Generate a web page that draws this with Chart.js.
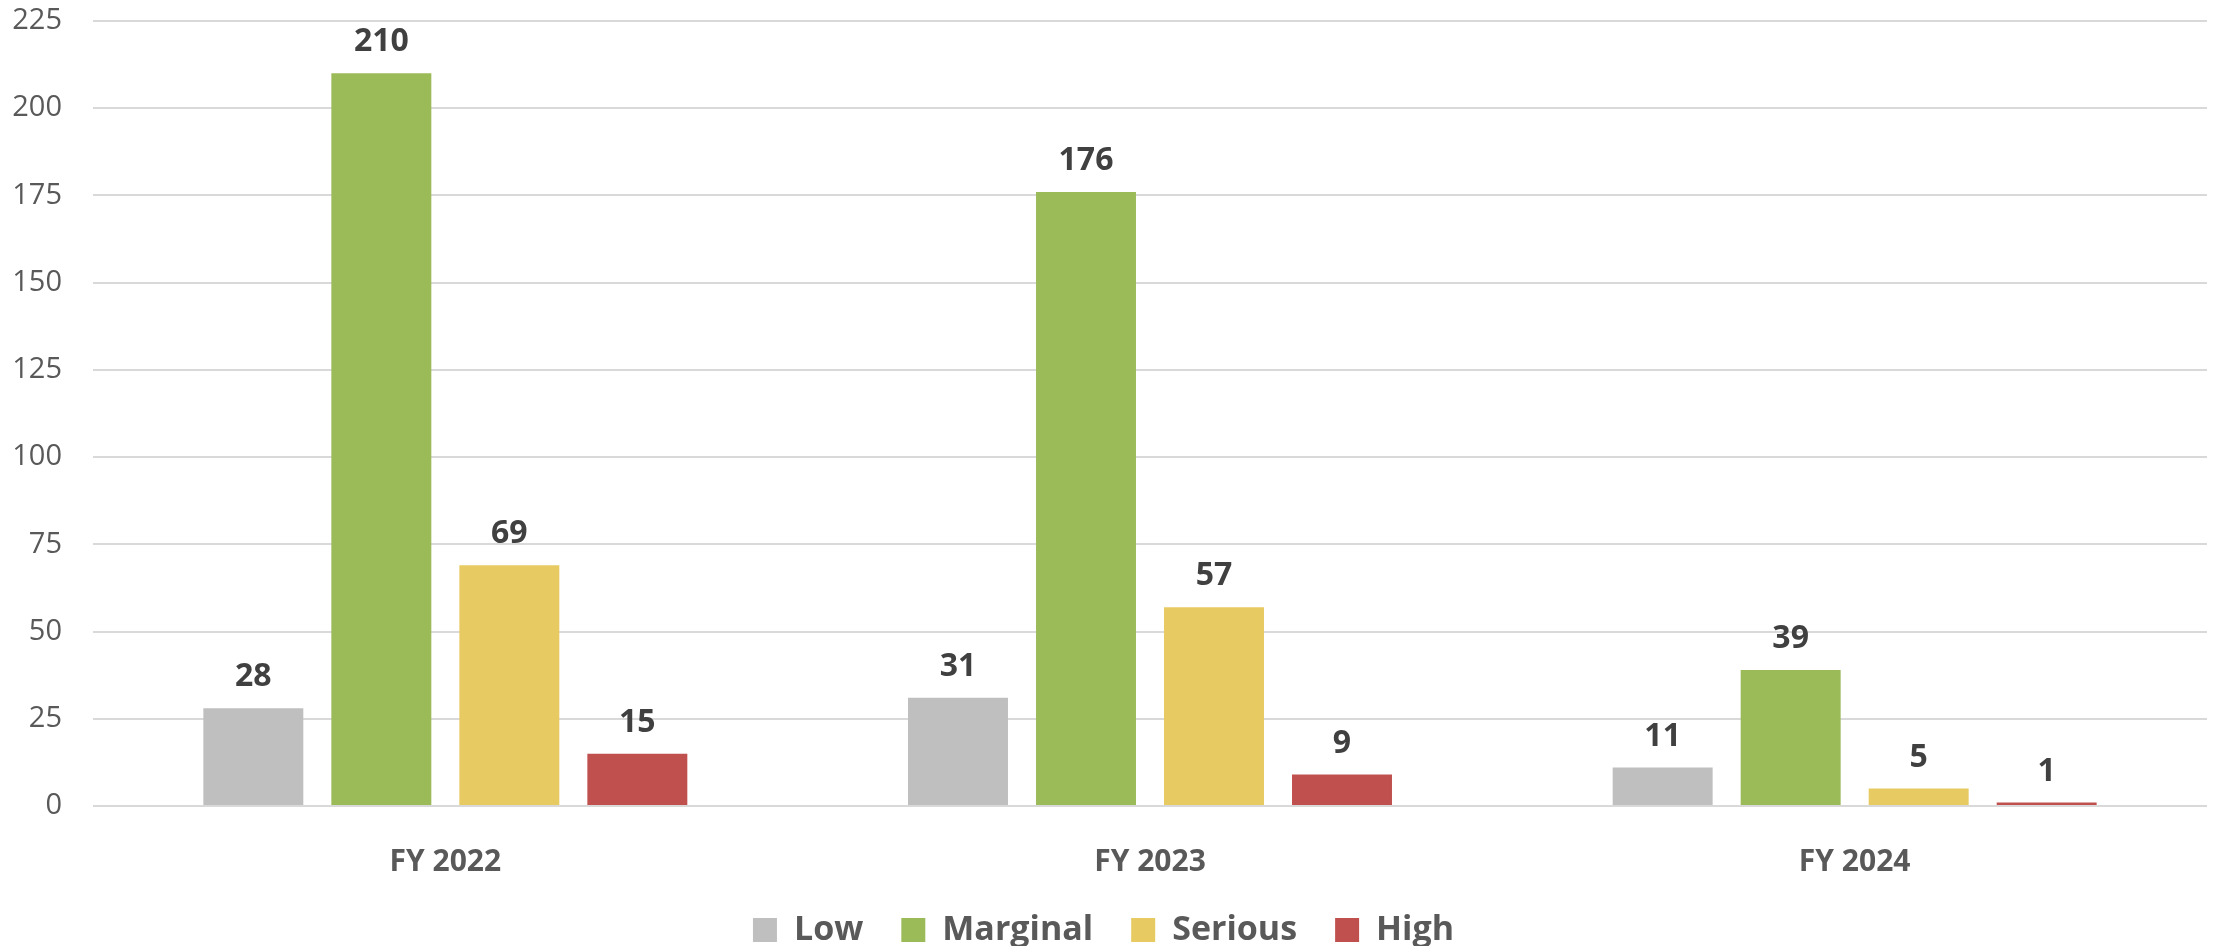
<!DOCTYPE html>
<html>
<head>
<meta charset="utf-8">
<script src="https://cdn.jsdelivr.net/npm/chart.js@4"></script>
<style>
  html, body { margin: 0; padding: 0; background: #fff; }
  #wrap { width: 2221px; height: 946px; position: relative; }
</style>
</head>
<body>
<div id="wrap"><canvas id="mainChart"></canvas></div>
<script>
// data
const years = ["FY 2022", "FY 2023", "FY 2024"];
const low = [28, 31, 11];
const marginal = [210, 176, 39];
const serious = [69, 57, 5];
const high = [15, 9, 1];

const FONT = "'Open Sans', 'DejaVu Sans', sans-serif";

// value labels above each bar
const barLabels = {
  id: "barLabels",
  afterDatasetsDraw(chart) {
    const ctx = chart.ctx;
    ctx.save();
    ctx.font = "bold 32px " + FONT;
    ctx.fillStyle = "#404040";
    ctx.textAlign = "center";
    ctx.textBaseline = "alphabetic";
    chart.data.datasets.forEach((ds, i) => {
      const meta = chart.getDatasetMeta(i);
      meta.data.forEach((bar, j) => {
        ctx.fillText(String(ds.data[j]), bar.x, bar.y - 22);
      });
    });
    ctx.restore();
  }
};

const ctx = document.getElementById("mainChart").getContext("2d");

new Chart(ctx, {
  type: "bar",
  data: {
    labels: years,
    datasets: [
      { label: "Low", data: low, backgroundColor: "#bfbfbf" },
      { label: "Marginal", data: marginal, backgroundColor: "#9bbb59" },
      { label: "Serious", data: serious, backgroundColor: "#e7ca62" },
      { label: "High", data: high, backgroundColor: "#c0504d" }
    ]
  },
  options: {
    responsive: true,
    maintainAspectRatio: false,
    animation: false,
    categoryPercentage: 0.7266,
    barPercentage: 0.781,
    layout: {
      padding: { top: 21, right: 14, bottom: -11, left: 0 }
    },
    plugins: {
      legend: {
        position: "bottom",
        labels: {
          boxWidth: 24,
          boxHeight: 24,
          padding: 38,
          color: "#595959",
          font: { size: 34, weight: "bold", family: FONT }
        }
      },
      tooltip: { enabled: false }
    },
    scales: {
      x: {
        grid: { display: false },
        border: { display: false },
        ticks: {
          padding: 30,
          color: "#595959",
          font: { size: 30, weight: "bold", family: FONT }
        },
        afterFit(scale) { scale.height = 69; }
      },
      y: {
        min: 0,
        max: 225,
        border: { display: false },
        grid: {
          color: "#d9d9d9",
          lineWidth: 2,
          drawTicks: true,
          tickLength: 31,
          tickColor: "rgba(0,0,0,0)"
        },
        ticks: {
          stepSize: 25,
          padding: 0,
          color: "#595959",
          font: { size: 29, family: FONT }
        },
        afterFit(scale) { scale.width = 93; }
      }
    }
  },
  plugins: [barLabels]
});
</script>
</body>
</html>
